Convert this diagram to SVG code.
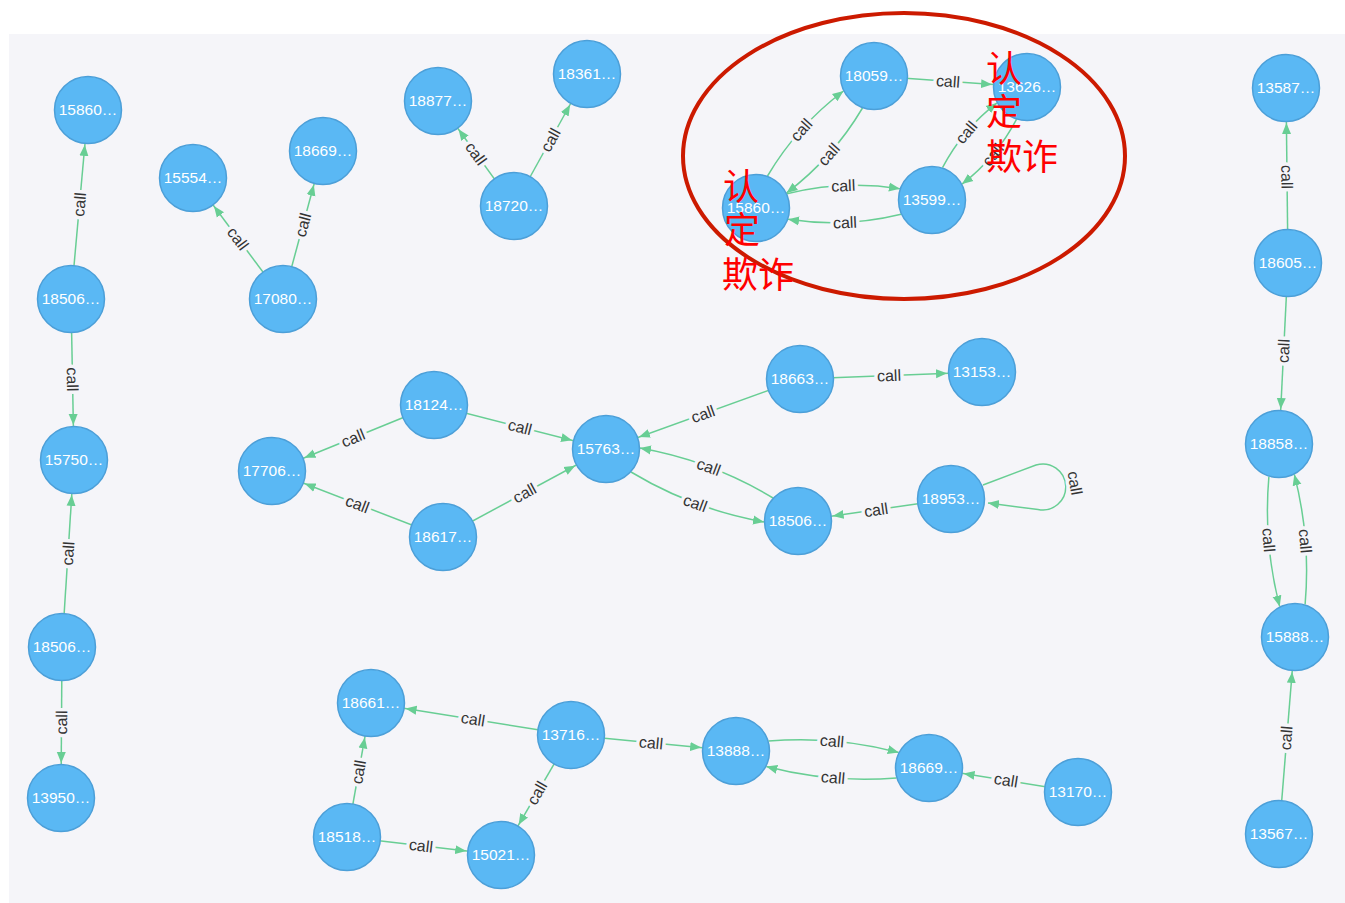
<svg xmlns="http://www.w3.org/2000/svg" width="1345" height="903" viewBox="0 0 1345 903">
<style>
.e{fill:none;stroke:#68ce94;stroke-width:1.5}
.s{marker-end:url(#arrS)}
.c{marker-end:url(#arrC)}
.lbl{font-family:"Liberation Sans",Arial,sans-serif;font-size:16px;fill:#333;stroke:#f5f5f9;stroke-width:7px;paint-order:stroke;stroke-linejoin:round;text-anchor:middle}
.nd circle{fill:#5ab8f4;stroke:#4c9fd8;stroke-width:1.5}
.nd text{font-family:"Liberation Sans",Arial,sans-serif;font-size:15.5px;fill:#fff;text-anchor:middle}
.red{font-family:"Noto Sans CJK SC",sans-serif;font-size:36px;fill:#ff0000}
</style>
<defs>
<marker id="arrS" markerUnits="userSpaceOnUse" viewBox="0 0 46 10" refX="46" refY="5" markerWidth="46" markerHeight="10" orient="auto"><path d="M0,0.5 L11,5 L0,9.5 z" fill="#68ce94"/></marker>
<marker id="arrC" markerUnits="userSpaceOnUse" viewBox="0 0 11 10" refX="11" refY="5" markerWidth="11" markerHeight="10" orient="auto"><path d="M0,0.5 L11,5 L0,9.5 z" fill="#68ce94"/></marker>
</defs>
<rect x="0" y="0" width="1345" height="903" fill="#ffffff"/>
<rect x="9" y="34" width="1336" height="869" fill="#f5f5f9"/>
<g id="connectors">
<path class="e s" d="M71,299 L88,110"/><text class="lbl" transform="translate(79.5,204.5) rotate(-84.9)" dy="0.35em">call</text>
<path class="e s" d="M71,299 L74,460"/><text class="lbl" transform="translate(72.5,379.5) rotate(88.9)" dy="0.35em">call</text>
<path class="e s" d="M62,647 L74,460"/><text class="lbl" transform="translate(68,553.5) rotate(-86.3)" dy="0.35em">call</text>
<path class="e s" d="M62,647 L61,798"/><text class="lbl" transform="translate(61.5,722.5) rotate(-89.6)" dy="0.35em">call</text>
<path class="e s" d="M283,299 L193,178"/><text class="lbl" transform="translate(238,238.5) rotate(53.4)" dy="0.35em">call</text>
<path class="e s" d="M283,299 L323,151"/><text class="lbl" transform="translate(303,225) rotate(-74.9)" dy="0.35em">call</text>
<path class="e s" d="M514,206 L438,101"/><text class="lbl" transform="translate(476,153.5) rotate(54.1)" dy="0.35em">call</text>
<path class="e s" d="M514,206 L587,74"/><text class="lbl" transform="translate(550.5,140) rotate(-61)" dy="0.35em">call</text>
<path class="e s" d="M874,76 L1027,87"/><text class="lbl" transform="translate(948,81.3) rotate(4.1)" dy="0.35em">call</text>
<path class="e c" d="M767.5,176 Q797.1,126 843.5,91"/><text class="lbl" transform="translate(801.3,129.8) rotate(-48.2)" dy="0.35em">call</text>
<path class="e c" d="M862.5,108 Q832.9,158 786.5,193"/><text class="lbl" transform="translate(828.7,154.3) rotate(-48.2)" dy="0.35em">call</text>
<path class="e c" d="M786.9,193.8 Q842.9,180 899.9,188.7"/><text class="lbl" transform="translate(843.2,185.6) rotate(-2.5)" dy="0.35em">call</text>
<path class="e c" d="M901.1,214.2 Q845.1,228 788.1,219.3"/><text class="lbl" transform="translate(844.9,222.4) rotate(-2.5)" dy="0.35em">call</text>
<path class="e c" d="M942.5,167.7 Q962.7,129.3 997,102.9"/><text class="lbl" transform="translate(966.2,132.3) rotate(-50)" dy="0.35em">call</text>
<path class="e c" d="M1016.5,119.3 Q996.3,157.7 962,184.1"/><text class="lbl" transform="translate(992.8,154.7) rotate(-50)" dy="0.35em">call</text>
<path class="e s" d="M434,405 L272,471"/><text class="lbl" transform="translate(353,438) rotate(-22.2)" dy="0.35em">call</text>
<path class="e s" d="M434,405 L606,449"/><text class="lbl" transform="translate(520,427) rotate(14.3)" dy="0.35em">call</text>
<path class="e s" d="M443,537 L272,471"/><text class="lbl" transform="translate(357.5,504) rotate(21.1)" dy="0.35em">call</text>
<path class="e s" d="M443,537 L606,449"/><text class="lbl" transform="translate(524.5,493) rotate(-28.4)" dy="0.35em">call</text>
<path class="e s" d="M800,379 L606,449"/><text class="lbl" transform="translate(703,414) rotate(-19.8)" dy="0.35em">call</text>
<path class="e s" d="M800,379 L982,372"/><text class="lbl" transform="translate(889,375.5) rotate(-2.2)" dy="0.35em">call</text>
<path class="e c" d="M773,498 Q711.1,460.7 640,448.1"/><text class="lbl" transform="translate(708.8,466.9) rotate(20.6)" dy="0.35em">call</text>
<path class="e c" d="M631,472 Q692.9,509.3 764,521.9"/><text class="lbl" transform="translate(695.2,503.1) rotate(20.6)" dy="0.35em">call</text>
<path class="e s" d="M951,499 L798,521"/><text class="lbl" transform="translate(876,510) rotate(-8.2)" dy="0.35em">call</text>
<path class="e c" d="M983,485 L1036,465 A23 23 0 1 1 1038,509.5 L988,503"/><text class="lbl" transform="translate(1075,483) rotate(80)" dy="0.35em">call</text>
<path class="e s" d="M1288,263 L1286,88"/><text class="lbl" transform="translate(1287,177) rotate(89.35)" dy="0.35em">call</text>
<path class="e s" d="M1288,263 L1279,444"/><text class="lbl" transform="translate(1283.5,351) rotate(-87.2)" dy="0.35em">call</text>
<path class="e c" d="M1268.9,476.5 Q1263.1,542.5 1279.7,606.6"/><text class="lbl" transform="translate(1268.7,540) rotate(85.3)" dy="0.35em">call</text>
<path class="e c" d="M1305.1,604.5 Q1310.9,538.5 1294.3,474.4"/><text class="lbl" transform="translate(1305.3,541) rotate(85.3)" dy="0.35em">call</text>
<path class="e s" d="M1279,834 L1295,637"/><text class="lbl" transform="translate(1286,738) rotate(-85.4)" dy="0.35em">call</text>
<path class="e s" d="M571,735 L371,703"/><text class="lbl" transform="translate(473,719) rotate(9.1)" dy="0.35em">call</text>
<path class="e s" d="M571,735 L736,751"/><text class="lbl" transform="translate(651,742.8) rotate(5.5)" dy="0.35em">call</text>
<path class="e s" d="M571,735 L501,855"/><text class="lbl" transform="translate(537,793) rotate(-59.7)" dy="0.35em">call</text>
<path class="e s" d="M347,837 L371,703"/><text class="lbl" transform="translate(358.5,772) rotate(-79.8)" dy="0.35em">call</text>
<path class="e s" d="M347,837 L501,855"/><text class="lbl" transform="translate(421,845.6) rotate(6.7)" dy="0.35em">call</text>
<path class="e c" d="M768.5,741.1 Q834.6,735.6 898.7,752.5"/><text class="lbl" transform="translate(832,741) rotate(5)" dy="0.35em">call</text>
<path class="e c" d="M896.5,777.9 Q830.4,783.4 766.3,766.5"/><text class="lbl" transform="translate(833,777.5) rotate(5)" dy="0.35em">call</text>
<path class="e s" d="M1078,792 L929,768"/><text class="lbl" transform="translate(1006,780) rotate(9.15)" dy="0.35em">call</text>
</g>
<g id="n1" class="nd"><circle cx="88" cy="110" r="33.5"/><text x="88" y="110" dy="0.35em">15860…</text></g>
<g id="n2" class="nd"><circle cx="71" cy="299" r="33.5"/><text x="71" y="299" dy="0.35em">18506…</text></g>
<g id="n3" class="nd"><circle cx="74" cy="460" r="33.5"/><text x="74" y="460" dy="0.35em">15750…</text></g>
<g id="n4" class="nd"><circle cx="62" cy="647" r="33.5"/><text x="62" y="647" dy="0.35em">18506…</text></g>
<g id="n5" class="nd"><circle cx="61" cy="798" r="33.5"/><text x="61" y="798" dy="0.35em">13950…</text></g>
<g id="n6" class="nd"><circle cx="193" cy="178" r="33.5"/><text x="193" y="178" dy="0.35em">15554…</text></g>
<g id="n7" class="nd"><circle cx="323" cy="151" r="33.5"/><text x="323" y="151" dy="0.35em">18669…</text></g>
<g id="n8" class="nd"><circle cx="283" cy="299" r="33.5"/><text x="283" y="299" dy="0.35em">17080…</text></g>
<g id="n9" class="nd"><circle cx="438" cy="101" r="33.5"/><text x="438" y="101" dy="0.35em">18877…</text></g>
<g id="n10" class="nd"><circle cx="587" cy="74" r="33.5"/><text x="587" y="74" dy="0.35em">18361…</text></g>
<g id="n11" class="nd"><circle cx="514" cy="206" r="33.5"/><text x="514" y="206" dy="0.35em">18720…</text></g>
<g id="n12" class="nd"><circle cx="874" cy="76" r="33.5"/><text x="874" y="76" dy="0.35em">18059…</text></g>
<g id="n13" class="nd"><circle cx="1027" cy="87" r="33.5"/><text x="1027" y="87" dy="0.35em">13626…</text></g>
<g id="n14" class="nd"><circle cx="756" cy="208" r="33.5"/><text x="756" y="208" dy="0.35em">15860…</text></g>
<g id="n15" class="nd"><circle cx="932" cy="200" r="33.5"/><text x="932" y="200" dy="0.35em">13599…</text></g>
<g id="n16" class="nd"><circle cx="434" cy="405" r="33.5"/><text x="434" y="405" dy="0.35em">18124…</text></g>
<g id="n17" class="nd"><circle cx="272" cy="471" r="33.5"/><text x="272" y="471" dy="0.35em">17706…</text></g>
<g id="n18" class="nd"><circle cx="443" cy="537" r="33.5"/><text x="443" y="537" dy="0.35em">18617…</text></g>
<g id="n19" class="nd"><circle cx="606" cy="449" r="33.5"/><text x="606" y="449" dy="0.35em">15763…</text></g>
<g id="n20" class="nd"><circle cx="800" cy="379" r="33.5"/><text x="800" y="379" dy="0.35em">18663…</text></g>
<g id="n21" class="nd"><circle cx="982" cy="372" r="33.5"/><text x="982" y="372" dy="0.35em">13153…</text></g>
<g id="n22" class="nd"><circle cx="798" cy="521" r="33.5"/><text x="798" y="521" dy="0.35em">18506…</text></g>
<g id="n23" class="nd"><circle cx="951" cy="499" r="33.5"/><text x="951" y="499" dy="0.35em">18953…</text></g>
<g id="n24" class="nd"><circle cx="1286" cy="88" r="33.5"/><text x="1286" y="88" dy="0.35em">13587…</text></g>
<g id="n25" class="nd"><circle cx="1288" cy="263" r="33.5"/><text x="1288" y="263" dy="0.35em">18605…</text></g>
<g id="n26" class="nd"><circle cx="1279" cy="444" r="33.5"/><text x="1279" y="444" dy="0.35em">18858…</text></g>
<g id="n27" class="nd"><circle cx="1295" cy="637" r="33.5"/><text x="1295" y="637" dy="0.35em">15888…</text></g>
<g id="n28" class="nd"><circle cx="1279" cy="834" r="33.5"/><text x="1279" y="834" dy="0.35em">13567…</text></g>
<g id="n29" class="nd"><circle cx="371" cy="703" r="33.5"/><text x="371" y="703" dy="0.35em">18661…</text></g>
<g id="n30" class="nd"><circle cx="571" cy="735" r="33.5"/><text x="571" y="735" dy="0.35em">13716…</text></g>
<g id="n31" class="nd"><circle cx="347" cy="837" r="33.5"/><text x="347" y="837" dy="0.35em">18518…</text></g>
<g id="n32" class="nd"><circle cx="501" cy="855" r="33.5"/><text x="501" y="855" dy="0.35em">15021…</text></g>
<g id="n33" class="nd"><circle cx="736" cy="751" r="33.5"/><text x="736" y="751" dy="0.35em">13888…</text></g>
<g id="n34" class="nd"><circle cx="929" cy="768" r="33.5"/><text x="929" y="768" dy="0.35em">18669…</text></g>
<g id="n35" class="nd"><circle cx="1078" cy="792" r="33.5"/><text x="1078" y="792" dy="0.35em">13170…</text></g>
<g id="annotation">
<ellipse cx="904" cy="156" rx="221" ry="143" fill="none" stroke="#cc1a00" stroke-width="4"/>
<text class="red" x="723" y="200">认</text>
<text class="red" x="724" y="243">定</text>
<text class="red" x="722" y="288">欺诈</text>
<text class="red" x="986" y="82">认</text>
<text class="red" x="986" y="125">定</text>
<text class="red" x="986" y="170">欺诈</text>
</g>
</svg>
